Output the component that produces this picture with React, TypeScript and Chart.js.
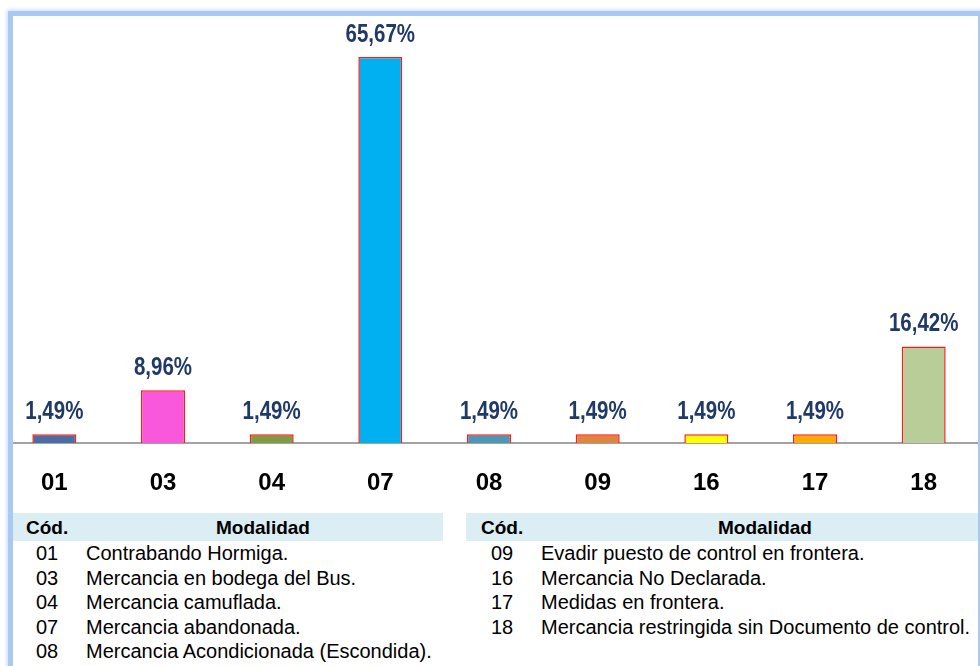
import React, { useEffect, useRef } from "react";
import { Chart, registerables } from "chart.js";

Chart.register(...registerables);

const categories = ["01", "03", "04", "07", "08", "09", "16", "17", "18"];
const percentages = [1.49, 8.96, 1.49, 65.67, 1.49, 1.49, 1.49, 1.49, 16.42];
const barColors = [
  "#4a6ea3",
  "#fa58dc",
  "#7f9c42",
  "#00b0f0",
  "#4a98b6",
  "#e0843e",
  "#ffff00",
  "#ffaa00",
  "#b8cd97",
];
const leftCodes = ["01", "03", "04", "07", "08"];
const leftNames = [
  "Contrabando Hormiga.",
  "Mercancia en bodega del Bus.",
  "Mercancia camuflada.",
  "Mercancia abandonada.",
  "Mercancia Acondicionada (Escondida).",
];
const rightCodes = ["09", "16", "17", "18"];
const rightNames = [
  "Evadir puesto de control en frontera.",
  "Mercancia No Declarada.",
  "Medidas en frontera.",
  "Mercancia restringida sin Documento de control.",
];

const SANS = "'Liberation Sans', Arial, sans-serif";

const valueLabels = {
  id: "valueLabels",
  afterDatasetsDraw(chart: any) {
    const ctx = chart.ctx;
    const meta = chart.getDatasetMeta(0);
    const sx = 0.82;
    meta.data.forEach((bar: any, i: number) => {
      const v = percentages[i];
      ctx.save();
      ctx.font = "bold 25px " + SANS;
      ctx.fillStyle = "#1f3968";
      ctx.textAlign = "center";
      ctx.textBaseline = "alphabetic";
      ctx.translate(bar.x, bar.y - 15);
      ctx.scale(sx, 1);
      ctx.fillText(v.toFixed(2).replace(".", ",") + "%", 0, 0);
      ctx.restore();
    });
  },
};

export default function App() {
  const ref = useRef<HTMLCanvasElement>(null);
  useEffect(() => {
    if (!ref.current) return;
    const chart = new Chart(ref.current, {
      type: "bar",
      data: {
        labels: categories,
        datasets: [
          {
            data: percentages,
            backgroundColor: barColors,
            borderColor: "#ff1a1a",
            borderWidth: 1.5,
            barPercentage: 0.405,
            categoryPercentage: 1,
          },
        ],
      },
      options: {
        animation: false,
        responsive: false,
        layout: { padding: { top: 31.5, left: 0, right: 0, bottom: 0 } },
        plugins: { legend: { display: false }, tooltip: { enabled: false } },
        scales: {
          x: {
            grid: { display: false, drawTicks: false },
            border: { display: true, color: "#a3a3a3", width: 2 },
            ticks: {
              color: "#000000",
              font: { family: SANS, size: 24, weight: "bold" },
              padding: 26,
            },
            afterFit: (scale: any) => {
              scale.height = 62;
            },
          },
          y: { display: false, min: 0, max: 70 },
        },
      },
      plugins: [valueLabels],
    });
    return () => chart.destroy();
  }, []);

  const rowStyle = (left: number, top: number): React.CSSProperties => ({
    position: "absolute",
    left,
    top,
    font: "20px " + SANS,
    lineHeight: "24.5px",
    color: "#000",
    whiteSpace: "nowrap",
  });
  const headStyle = (left: number, width?: number): React.CSSProperties => ({
    position: "absolute",
    left,
    top: 514,
    width,
    textAlign: width ? "center" : "left",
    font: "bold 19px " + SANS,
    lineHeight: "28px",
    color: "#000",
    whiteSpace: "nowrap",
  });

  return (
    <div
      style={{
        position: "absolute",
        left: 0,
        top: 0,
        width: 980,
        height: 666,
        overflow: "hidden",
        background: "#fff",
      }}
    >
      <div style={{ position: "absolute", left: 13, top: 513, width: 430, height: 28, background: "#daeef3" }} />
      <div style={{ position: "absolute", left: 466, top: 513, width: 512, height: 28, background: "#daeef3" }} />
      <div
        style={{
          position: "absolute",
          left: 13,
          top: 0,
          width: 965,
          height: 505,
          overflow: "hidden",
        }}
      >
        <canvas
          ref={ref}
          width={978}
          height={505}
          style={{ position: "absolute", left: -13, top: 0, width: 978, height: 505 }}
        />
      </div>
      <div style={headStyle(26)}>Cód.</div>
      <div style={headStyle(163, 200)}>Modalidad</div>
      <div style={headStyle(481)}>Cód.</div>
      <div style={headStyle(665, 200)}>Modalidad</div>
      {leftCodes.map((c, i) => (
        <div key={"lc" + c} style={rowStyle(36, 541 + 24.5 * i)}>{c}</div>
      ))}
      {leftNames.map((n, i) => (
        <div key={"ln" + i} style={rowStyle(86, 541 + 24.5 * i)}>{n}</div>
      ))}
      {rightCodes.map((c, i) => (
        <div key={"rc" + c} style={rowStyle(491, 541 + 24.5 * i)}>{c}</div>
      ))}
      {rightNames.map((n, i) => (
        <div key={"rn" + i} style={rowStyle(541, 541 + 24.5 * i)}>{n}</div>
      ))}
      <div
        style={{
          position: "absolute",
          left: 8,
          top: 11,
          width: 975,
          height: 720,
          boxSizing: "border-box",
          border: "5px solid #a9c9f4",
          boxShadow: "0 0 4px 1px rgba(169,201,244,0.7)",
          pointerEvents: "none",
        }}
      />
    </div>
  );
}
